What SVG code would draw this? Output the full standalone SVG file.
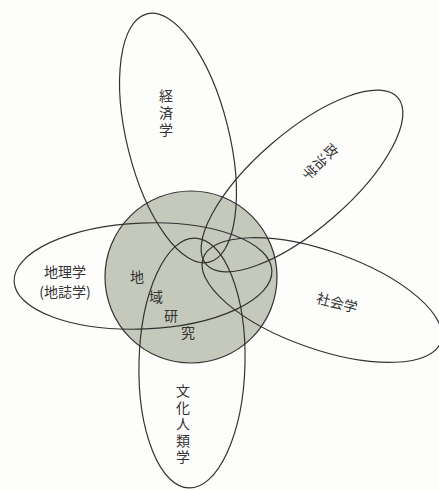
<svg xmlns="http://www.w3.org/2000/svg" width="439" height="490" viewBox="0 0 439 490">
<style>
.petal{fill:none;stroke:#333;stroke-width:1.2}
.core{fill:#c4c9bb;stroke:#333;stroke-width:1.2}
text{font-family:"Noto Sans CJK JP","Noto Sans CJK SC",sans-serif;font-size:14px;fill:#333}
.v{writing-mode:vertical-rl;text-anchor:middle}
</style>
<rect width="439" height="490" fill="#fdfdfb"/>
<g id="regional-studies">
<circle class="core" cx="191" cy="277" r="86"/>
</g>
<g id="economics">
<ellipse class="petal" cx="178" cy="138" rx="128" ry="51" transform="rotate(76 178 138)"/>
<text class="v" x="166" y="114" letter-spacing="3">経済学</text>
</g>
<g id="politics">
<ellipse class="petal" cx="302" cy="181" rx="127" ry="48" transform="rotate(-41 302 181)"/>
<text class="v" x="320" y="162" transform="rotate(45 320 162)" letter-spacing="1">政治学</text>
</g>
<g id="sociology">
<ellipse class="petal" cx="322" cy="300" rx="126" ry="49" transform="rotate(19.4 322 300)"/>
<text x="337" y="308" text-anchor="middle" transform="rotate(14 337 303)">社会学</text>
</g>
<g id="cultural-anthropology">
<ellipse class="petal" cx="192" cy="363" rx="53" ry="125" transform="rotate(1.4 192 363)"/>
<text class="v" x="183" y="425" letter-spacing="2.5">文化人類学</text>
</g>
<g id="geography">
<ellipse class="petal" cx="143" cy="276" rx="129" ry="53" transform="rotate(-2.4 143 276)"/>
<text x="65" y="277" text-anchor="middle" font-size="15">地理学</text>
<text x="65" y="297" text-anchor="middle" font-size="15">(地誌学)</text>
</g>
<g id="label-core">
<text x="137" y="282" text-anchor="middle">地</text>
<text x="156" y="302" text-anchor="middle">域</text>
<text x="171" y="321" text-anchor="middle">研</text>
<text x="188" y="338" text-anchor="middle">究</text>
</g>
<g id="connectors"></g>
</svg>
